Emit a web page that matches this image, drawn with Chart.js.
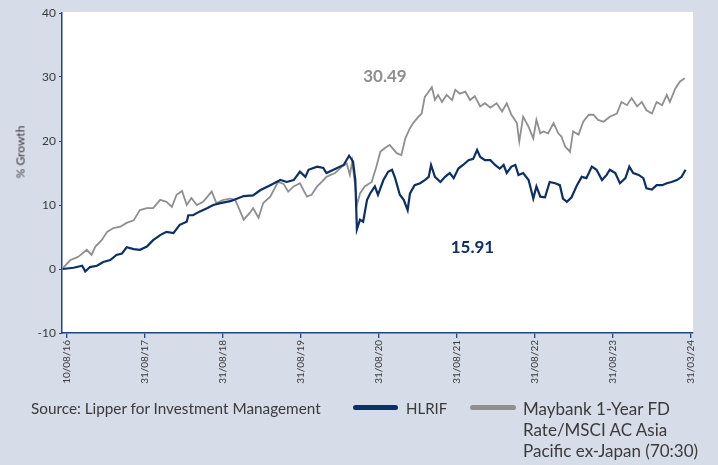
<!DOCTYPE html>
<html>
<head>
<meta charset="utf-8">
<script src="https://cdn.jsdelivr.net/npm/chart.js@4"></script>
<style>
  html, body { margin: 0; padding: 0; background: #d6dce8; }
  #wrap { position: relative; width: 718px; height: 465px; overflow: hidden; background: #d6dce8; font-family: Lato, "Open Sans", sans-serif; color: #3a3a3a; }
  #c { position: absolute; left: 0; top: 0; }
  .ytitle { position: absolute; left: 20px; top: 152px; transform: translate(-50%, -50%) rotate(-90deg); font-size: 12px; white-space: nowrap; color: #3a3a3a; }
  .src { position: absolute; left: 31px; top: 398px; font-size: 15.3px; line-height: 21px; white-space: nowrap; }
  .sw { position: absolute; height: 5px; border-radius: 3px; }
  .lt { position: absolute; font-size: 16px; line-height: 21px; white-space: nowrap; }
</style>
</head>
<body>
<div id="wrap">
  <canvas id="c" width="718" height="465"></canvas>
  <div class="ytitle">% Growth</div>
  <div class="src">Source: Lipper for Investment Management</div>
  <div class="sw" style="left:353px; top:405px; width:45px; background:#0c2f66;"></div>
  <div class="lt" style="left:406px; top:398px; font-size:15px;">HLRIF</div>
  <div class="sw" style="left:470px; top:405px; width:46px; background:#8f8f8f;"></div>
  <div class="lt" style="left:523px; top:398px; font-size:17px;">Maybank 1-Year FD<br>Rate/MSCI AC Asia<br>Pacific ex-Japan (70:30)</div>
</div>
<script>
// x positions are in tick-interval units (0 = 10/08/16, 8 = 31/03/24)
const tickLabels = ['10/08/16','31/08/17','31/08/18','31/08/19','31/08/20','31/08/21','31/08/22','31/08/23','31/03/24'];

const hlrifX = [-0.05,0.09,0.20,0.24,0.30,0.39,0.47,0.56,0.64,0.71,0.77,0.86,0.94,1.03,1.11,1.20,1.28,1.37,1.45,1.54,1.56,1.62,1.71,1.80,1.88,1.97,2.10,2.27,2.39,2.48,2.61,2.74,2.82,2.91,2.99,3.06,3.10,3.21,3.29,3.33,3.42,3.55,3.62,3.67,3.70,3.72,3.76,3.80,3.85,3.89,3.95,3.99,4.06,4.12,4.17,4.21,4.27,4.32,4.37,4.40,4.46,4.53,4.59,4.64,4.67,4.72,4.79,4.85,4.91,4.96,5.02,5.08,5.15,5.21,5.26,5.30,5.36,5.43,5.49,5.55,5.60,5.64,5.70,5.75,5.79,5.85,5.92,5.98,6.02,6.07,6.13,6.19,6.26,6.32,6.36,6.41,6.47,6.54,6.60,6.66,6.73,6.79,6.86,6.92,6.96,7.03,7.09,7.16,7.21,7.26,7.33,7.39,7.43,7.50,7.56,7.63,7.69,7.75,7.82,7.88,7.93];
const hlrifY = [0.0,0.2,0.5,-0.4,0.3,0.5,1.1,1.4,2.2,2.4,3.4,3.1,3.0,3.5,4.5,5.3,5.8,5.6,6.9,7.4,8.4,8.4,9.0,9.5,10.0,10.3,10.6,11.4,11.5,12.3,13.1,13.9,13.6,13.9,15.2,14.4,15.5,16.0,15.8,15.0,15.5,16.25,17.7,16.8,13.9,6.2,7.7,7.4,10.8,11.8,12.9,11.6,13.9,15.2,15.5,14.2,11.6,10.8,9.2,11.8,13.1,13.4,13.9,14.4,16.25,14.4,13.6,14.4,15.0,14.2,15.7,16.25,17.0,17.2,18.6,17.5,17.0,17.0,16.25,15.7,16.25,15.0,16.0,16.25,14.7,15.0,13.9,11.0,12.9,11.3,11.2,13.6,13.4,13.1,11.0,10.5,11.2,13.1,14.4,14.2,16.0,15.5,13.9,14.7,15.5,15.0,13.4,14.2,16.0,15.0,14.7,14.2,12.6,12.4,13.1,13.1,13.4,13.6,13.9,14.4,15.5];

const benchX = [-0.05,0.05,0.11,0.15,0.26,0.32,0.37,0.45,0.52,0.60,0.69,0.77,0.86,0.94,1.03,1.11,1.20,1.28,1.35,1.41,1.48,1.54,1.60,1.67,1.75,1.86,1.92,2.01,2.10,2.16,2.20,2.27,2.35,2.39,2.46,2.52,2.61,2.71,2.78,2.84,2.91,2.99,3.08,3.14,3.21,3.27,3.33,3.44,3.53,3.59,3.63,3.66,3.70,3.72,3.76,3.82,3.91,3.97,4.02,4.08,4.14,4.23,4.29,4.34,4.40,4.44,4.51,4.55,4.59,4.64,4.68,4.72,4.76,4.81,4.87,4.94,4.98,5.04,5.11,5.17,5.23,5.30,5.36,5.43,5.51,5.58,5.64,5.70,5.77,5.80,5.85,5.92,5.98,6.02,6.07,6.11,6.17,6.24,6.30,6.34,6.39,6.43,6.45,6.49,6.56,6.62,6.69,6.75,6.81,6.88,6.96,7.05,7.11,7.18,7.24,7.31,7.37,7.43,7.50,7.56,7.63,7.69,7.73,7.80,7.86,7.92];
const benchY = [0.1,1.4,1.7,1.9,3.0,2.2,3.5,4.5,5.8,6.4,6.6,7.2,7.6,9.2,9.5,9.5,10.8,10.5,9.7,11.6,12.2,10.0,11.1,10.0,10.5,12.1,10.3,10.8,11.0,10.8,9.7,7.7,8.8,9.5,8.0,10.3,11.3,13.6,13.3,12.1,12.9,13.4,11.3,11.6,12.9,13.6,14.4,15.0,16.0,16.5,14.7,16.8,12.8,10.0,11.8,12.9,13.6,16.0,18.3,18.9,19.4,18.1,17.8,20.4,22.0,22.8,23.8,24.3,26.9,27.7,28.4,26.4,27.2,26.1,27.2,26.4,28.0,27.4,27.7,26.4,27.0,25.4,25.9,25.2,25.9,24.6,25.9,24.1,22.8,19.9,23.8,22.2,20.4,23.3,21.2,21.5,21.2,22.8,21.2,20.7,19.1,18.6,18.3,21.5,21.0,23.0,24.1,24.1,23.3,23.0,23.8,24.3,26.1,25.6,26.7,25.4,26.1,24.8,24.3,26.1,25.6,27.2,26.1,28.2,29.3,29.8];

const navy = '#0c2f66';
const grey = '#8f8f8f';
const axisColor = '#24467c';

const toPts = (xs, ys) => xs.map((x, i) => ({ x, y: ys[i] }));

const bgPlugin = {
  id: 'plotBg',
  beforeDraw(chart) {
    const { ctx, chartArea: a } = chart;
    ctx.save();
    ctx.fillStyle = '#ffffff';
    ctx.fillRect(a.left, a.top - 1, a.right - a.left, a.bottom - a.top + 1);
    ctx.restore();
  }
};

const endLabels = {
  id: 'endLabels',
  afterDatasetsDraw(chart, args, opts) {
    const { ctx, scales } = chart;
    ctx.save();
    ctx.font = 'bold 17px Lato, "Open Sans", sans-serif';
    ctx.textAlign = 'center';
    ctx.textBaseline = 'middle';
    opts.items.forEach(it => {
      ctx.fillStyle = it.color;
      ctx.fillText(it.text, scales.x.getPixelForValue(it.x), scales.y.getPixelForValue(it.y));
    });
    ctx.restore();
  }
};

new Chart(document.getElementById('c'), {
  type: 'line',
  data: {
    datasets: [
      { label: 'HLRIF', data: toPts(hlrifX, hlrifY), borderColor: navy, borderWidth: 2.2, pointRadius: 0, tension: 0, fill: false },
      { label: 'Maybank 1-Year FD Rate/MSCI AC Asia Pacific ex-Japan (70:30)', data: toPts(benchX, benchY), borderColor: grey, borderWidth: 1.8, pointRadius: 0, tension: 0, fill: false }
    ]
  },
  options: {
    responsive: false,
    animation: false,
    layout: { padding: { left: 0, top: 13, right: 25, bottom: 72 } },
    plugins: {
      legend: { display: false },
      tooltip: { enabled: false },
      endLabels: { items: [
        { text: '30.49', x: 4.08, y: 30.1, color: grey },
        { text: '15.91', x: 5.2, y: 3.3, color: navy }
      ] }
    },
    scales: {
      x: {
        type: 'linear',
        min: -0.058, max: 8.026,
        afterBuildTicks: s => { s.ticks = tickLabels.map((_, i) => ({ value: i })); },
        afterFit: s => { s.height = 60; },
        ticks: {
          autoSkip: false, maxRotation: 90, minRotation: 90,
          color: '#3a3a3a', font: { size: 10, family: 'Lato, "Open Sans", sans-serif' }, padding: 2,
          callback: v => tickLabels[Math.round(v)]
        },
        grid: { drawOnChartArea: false, drawTicks: true, tickLength: 5, color: axisColor, lineWidth: 1.3 },
        border: { display: true, color: axisColor, width: 1.5 }
      },
      y: {
        min: -10, max: 40,
        afterFit: s => { s.width = 62; },
        ticks: { stepSize: 10, color: '#3a3a3a', font: { size: 12, family: 'Lato, "Open Sans", sans-serif' }, padding: 3 },
        grid: { drawOnChartArea: false, drawTicks: true, tickLength: 3, color: axisColor },
        border: { display: true, color: axisColor, width: 1.5 }
      }
    }
  },
  plugins: [bgPlugin, endLabels]
});
</script>
</body>
</html>
